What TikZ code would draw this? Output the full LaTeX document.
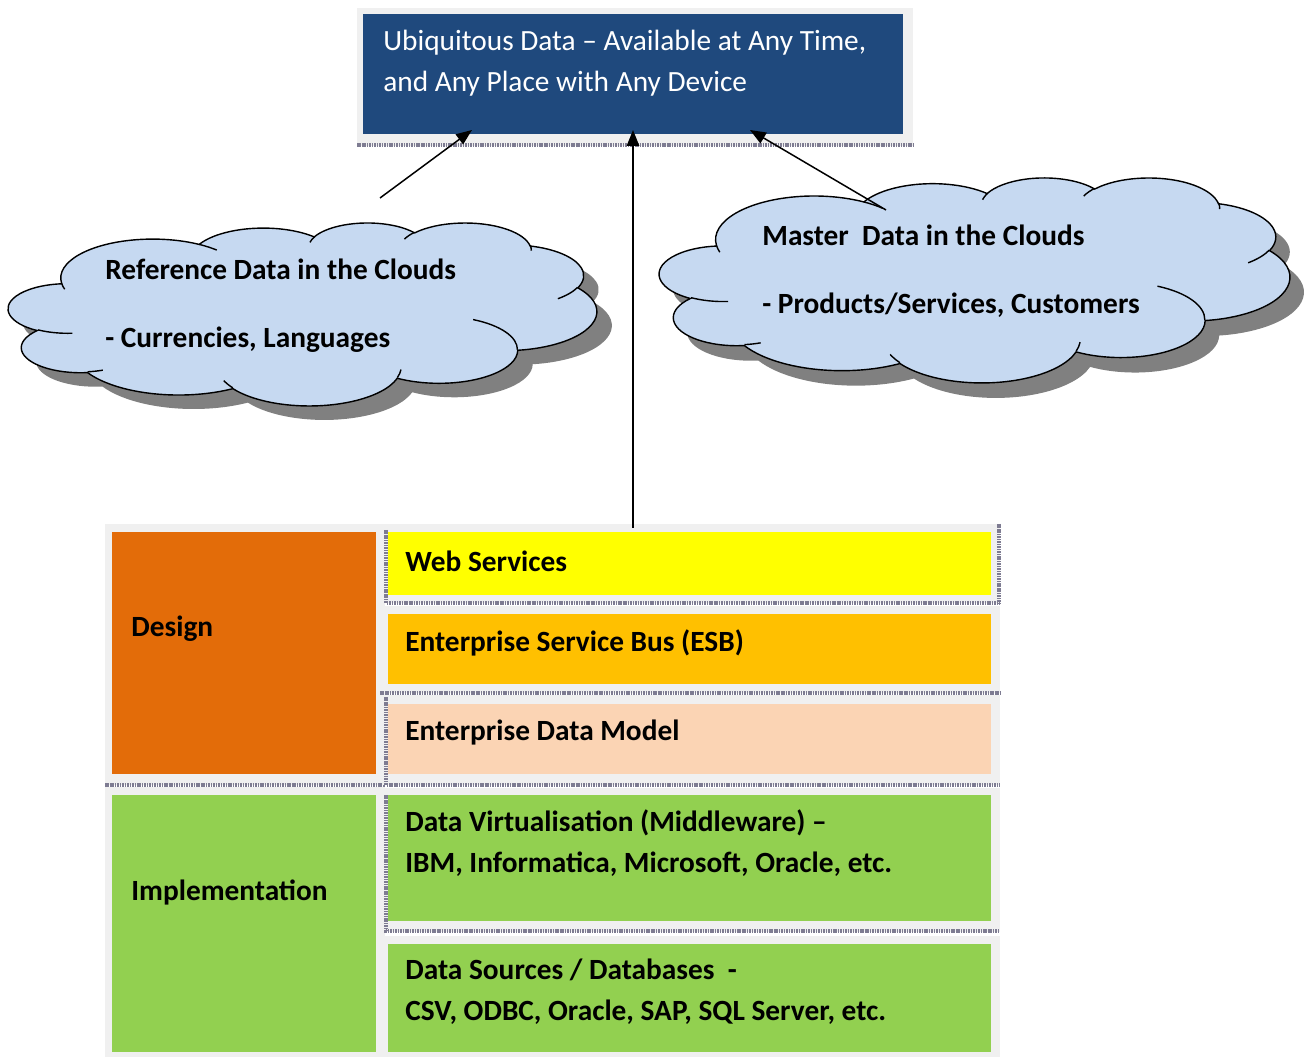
\documentclass[tikz,border=0pt]{standalone}
\usepackage{fontspec}
\setmainfont{Carlito}
\usetikzlibrary{arrows.meta, positioning, fit}

\definecolor{ubiqblue}{HTML}{1F497D}
\definecolor{cloudblue}{HTML}{C6D9F1}
\definecolor{designorange}{HTML}{E36C09}
\definecolor{webyellow}{HTML}{FFFF00}
\definecolor{esbgold}{HTML}{FFC000}
\definecolor{modelpeach}{HTML}{FBD4B4}
\definecolor{implgreen}{HTML}{92D050}
\definecolor{framegray}{HTML}{F0F0F0}
\definecolor{hatchgray}{HTML}{7E7C92}

% cloud outline in a 432 x 432 box
\newcommand{\cloudoutline}{(39.00,143.70)
  arc[start angle=-187.746, delta angle=128.109, x radius=67.53, y radius=91.90]
  arc[start angle=-152.035, delta angle=106.568, x radius=53.33, y radius=72.67]
  arc[start angle=-153.492, delta angle=116.170, x radius=43.65, y radius=59.45]
  arc[start angle=-139.702, delta angle=129.491, x radius=48.57, y radius=65.95]
  arc[start angle=-74.768, delta angle=97.975, x radius=53.33, y radius=72.73]
  arc[start angle=-37.537, delta angle=119.399, x radius=67.75, y radius=92.20]
  arc[start angle=0.460, delta angle=121.521, x radius=57.85, y radius=78.67]
  arc[start angle=16.845, delta angle=129.378, x radius=67.52, y radius=92.15]
  arc[start angle=58.987, delta angle=91.209, x radius=77.20, y radius=105.43]
  arc[start angle=-276.694, delta angle=139.774, x radius=43.60, y radius=59.18]
  arc[start angle=-239.644, delta angle=143.757, x radius=43.45, y radius=59.45] -- cycle}
% creases inside the cloud
\newcommand{\cloudcreases}{
  (46.93,261.77) arc[start angle=85.547, delta angle=34.809, x radius=43.45, y radius=59.45]
  (69.28,348.99) arc[start angle=68.236, delta angle=15.070, x radius=43.60, y radius=59.18]
  (164.78,390.90) arc[start angle=146.223, delta angle=12.251, x radius=67.52, y radius=92.15]
  (288.27,347.51) arc[start angle=4.738, delta angle=12.107, x radius=67.52, y radius=92.15]
  (341.29,229.54) arc[start angle=-64.027, delta angle=64.487, x radius=57.85, y radius=78.67]
  (417.98,153.54) arc[start angle=23.207, delta angle=26.438, x radius=53.33, y radius=72.73]
  (383.24,54.26) arc[start angle=-10.211, delta angle=11.032, x radius=48.57, y radius=65.95]
  (290.78,39.52) arc[start angle=-156.285, delta angle=16.583, x radius=48.57, y radius=65.95]
  (221.41,47.20) arc[start angle=-167.726, delta angle=14.234, x radius=43.65, y radius=59.45]
  (140.00,51.92) arc[start angle=-59.637, delta angle=13.890, x radius=67.53, y radius=91.90]
  (41.27,157.89) arc[start angle=163.195, delta angle=9.059, x radius=67.53, y radius=91.90]}

\begin{document}
\begin{tikzpicture}[x=0.02cm, y=-0.02cm,
    box/.style={inner sep=0pt, outer sep=0pt, draw=none},
    frame/.style={fill=framegray},
    hatch/.style={draw=hatchgray, line width=1.8pt, dash pattern=on 0.9pt off 0.5pt},
    lbl/.style={anchor=west, align=left, inner sep=0pt, font=\fontsize{16.7}{23.5}\selectfont\bfseries},
    cloudline/.style={draw=black, line width=0.8pt},
    arr/.style={-{Triangle[length=9pt, width=7pt]}, line width=0.85pt}
]
\useasboundingbox (0,0) rectangle (1309,1057);

% Top box
\fill[frame] (357,8) rectangle (913,146);
\draw[hatch] (357,145) -- (913,145);
\node[box, fill=ubiqblue, fit={(363,14) (903,134)}] (ubiq) {};
\node[lbl, font=\fontsize{16.7}{23.5}\selectfont, text=white] (ubiqtxt) at (383,63)
    {Ubiquitous Data -- Available at Any Time,\\ and Any Place with Any Device};

% Clouds
\begin{scope}[shift={(8.5,222.4)}, xscale=1.3615, yscale=0.4234]
  \fill[gray] [shift={(11,33)}] \cloudoutline;
  \filldraw[cloudline, fill=cloudblue] \cloudoutline;
  \draw[cloudline] \cloudcreases;
  \coordinate (refcloud) at (216,216);
\end{scope}
\node[lbl] (reftxt) at (105,306) {Reference Data in the Clouds\\[15pt] - Currencies, Languages};

\begin{scope}[shift={(659.6,177.3)}, xscale=1.4586, yscale=0.4743]
  \fill[gray] [shift={(9.6,31.6)}] \cloudoutline;
  \filldraw[cloudline, fill=cloudblue] \cloudoutline;
  \draw[cloudline] \cloudcreases;
  \coordinate (mastercloud) at (216,216);
\end{scope}
\node[lbl] (mastertxt) at (762,271) {Master\ \ Data in the Clouds\\[15pt] - Products/Services, Customers};

% Left column
\fill[frame] (105,524) rectangle (385,785);
\draw[hatch] (105,785) -- (385,785);
\node[box, fill=designorange, fit={(112,532) (376,774)}] (design) {};
\node[lbl] (designtxt) at (131,629) {Design};

\fill[frame] (105,787) rectangle (385,1057);
\node[box, fill=implgreen, fit={(112,795) (376,1052)}] (impl) {};
\node[lbl] (impltxt) at (131,892) {Implementation};

% Right column
\foreach \fa/\fb/\ba/\bb/\col/\nm in {524/603/532/595/webyellow/web,
                                   606/693/614/684/esbgold/esb,
                                   695/785/704/774/modelpeach/model,
                                   788/932/795/921/implgreen/virt,
                                   936/1057/944/1052/implgreen/sources} {
    \fill[frame] (383,\fa) rectangle (1000,\fb);
    \node[box, fill=\col, fit={(388,\ba) (991,\bb)}] (\nm) {};
}
\draw[hatch] (386,530) -- (386,603) -- (1000,603);
\draw[hatch] (380,693) -- (1000,693);
\draw[hatch] (386,697) -- (386,785) -- (1000,785);
\draw[hatch] (386,795) -- (386,931) -- (1000,931);
\draw[hatch] (999,524) -- (999,603);

\node[lbl] (webtxt) at (405,561) {Web Services};
\node[lbl] (esbtxt) at (405,643) {Enterprise Service Bus (ESB)};
\node[lbl] (modeltxt) at (405,733) {Enterprise Data Model};
\node[lbl] (virttxt) at (405,843) {Data Virtualisation (Middleware) --\\ IBM, Informatica, Microsoft, Oracle, etc.};
\node[lbl] (sourcestxt) at (405,992) {Data Sources / Databases\ \ -\\ CSV, ODBC, Oracle, SAP, SQL Server, etc.};

% Arrows
\coordinate (reftail) at (380,198);
\coordinate (refhead) at (472,130);
\coordinate (mastertail) at (886,210);
\coordinate (masterhead) at (750,130);
\draw[arr] (reftail) -- (refhead);
\draw[arr] (mastertail) -- (masterhead);
\draw[arr] (ubiq.south |- web.north) ++(0,-4) -- ([yshift=0.08cm]ubiq.south);

\end{tikzpicture}
\end{document}
